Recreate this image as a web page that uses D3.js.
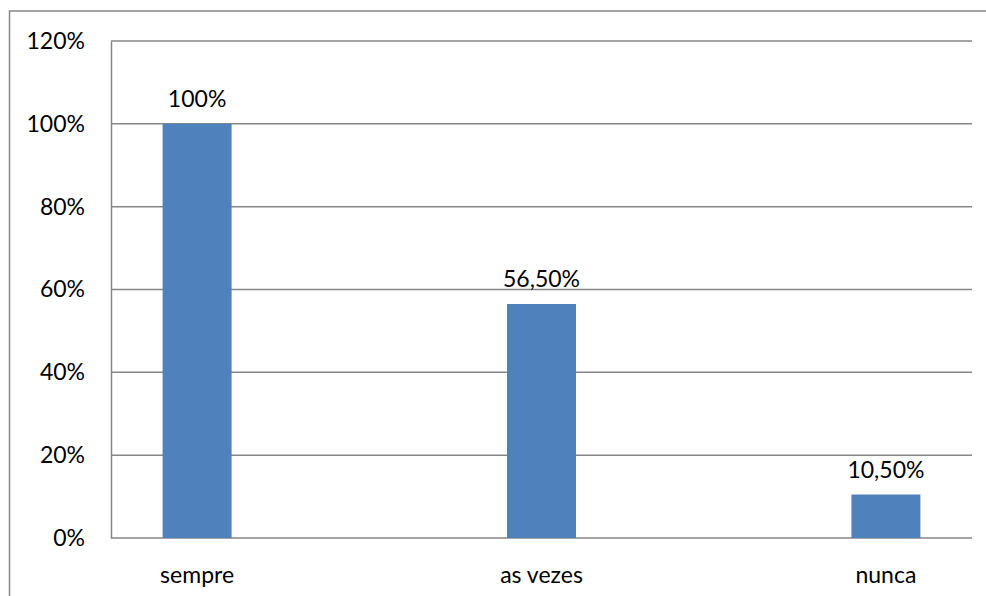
<!DOCTYPE html>
<html>
<head>
<meta charset="utf-8">
<script src="https://cdnjs.cloudflare.com/ajax/libs/d3/7.8.5/d3.min.js"></script>
<style>
body { margin: 0; background: #fff; }
text { font-family: Lato, "Open Sans", sans-serif; fill: #000; }
</style>
</head>
<body>
<script>
var categories = ['sempre', 'as vezes', 'nunca']
var values = [1.00, 0.565, 0.105]
var valueLabels = ['100%', '56,50%', '10,50%']
var yTicks = [0, 0.2, 0.4, 0.6, 0.8, 1.0, 1.2]

var width = 986, height = 596
var svg = d3.select('body').append('svg')
	.attr('width', width)
	.attr('height', height)

// outer chart border
svg.append('rect')
	.attr('x', 9.5).attr('y', 11)
	.attr('width', 1100).attr('height', 700)
	.attr('fill', 'none')
	.attr('stroke', '#888')
	.attr('stroke-width', 1.5)

var plotLeft = 111, plotRight = 972, plotTop = 41, plotBottom = 538

var x = d3.scalePoint()
	.domain(categories)
	.range([plotLeft, plotRight])
	.padding(0.25)

var y = d3.scaleLinear()
	.domain([0, 1.2])
	.range([plotBottom, plotTop])

var barW = 69

// gridlines
svg.append('g').selectAll('line')
	.data(yTicks)
	.join('line')
	.attr('x1', plotLeft).attr('x2', plotRight)
	.attr('y1', d => y(d)).attr('y2', d => y(d))
	.attr('stroke', '#868686')
	.attr('stroke-width', 1.5)

// y axis
var yAxis = svg.append('g')
	.attr('transform', 'translate(' + plotLeft + ',0)')
	.call(d3.axisLeft(y).tickValues(yTicks).tickFormat(d3.format('.0%')).tickSize(0).tickPadding(26))
yAxis.select('.domain').attr('stroke', '#868686').attr('stroke-width', 1.5)
yAxis.selectAll('text').style('font-size', '23px').attr('fill', '#000')

// bars
svg.append('g').selectAll('rect')
	.data(values)
	.join('rect')
	.attr('x', (d, i) => x(categories[i]) - barW / 2)
	.attr('width', barW)
	.attr('y', d => y(d))
	.attr('height', d => y(0) - y(d))
	.attr('fill', '#4F81BD')

// value labels
svg.append('g').selectAll('text')
	.data(values)
	.join('text')
	.attr('x', (d, i) => x(categories[i]))
	.attr('y', d => y(d) - 17)
	.attr('text-anchor', 'middle')
	.style('font-size', '23px')
	.text((d, i) => valueLabels[i])

// category labels
svg.append('g').selectAll('text')
	.data(categories)
	.join('text')
	.attr('x', d => x(d))
	.attr('y', 583)
	.attr('text-anchor', 'middle')
	.style('font-size', '23px')
	.text(d => d)
</script>
</body>
</html>
